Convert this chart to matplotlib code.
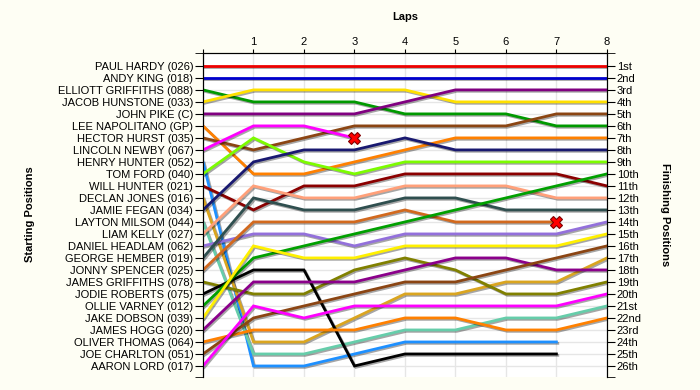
import matplotlib
matplotlib.use('Agg')
import matplotlib.pyplot as plt
import matplotlib.patheffects as pe

plt.rcParams['font.family'] = ['Liberation Sans', 'DejaVu Sans']

laps = [0, 1, 2, 3, 4, 5, 6, 7, 8]

drivers = ['PAUL HARDY (026)', 'ANDY KING (018)', 'ELLIOTT GRIFFITHS (088)', 'JACOB HUNSTONE (033)',
           'JOHN PIKE (C)', 'LEE NAPOLITANO (GP)', 'HECTOR HURST (035)', 'LINCOLN NEWBY (067)',
           'HENRY HUNTER (052)', 'TOM FORD (040)', 'WILL HUNTER (021)', 'DECLAN JONES (016)',
           'JAMIE FEGAN (034)', 'LAYTON MILSOM (044)', 'LIAM KELLY (027)', 'DANIEL HEADLAM (062)',
           'GEORGE HEMBER (019)', 'JONNY SPENCER (025)', 'JAMES GRIFFITHS (078)', 'JODIE ROBERTS (075)',
           'OLLIE VARNEY (012)', 'JAKE DOBSON (039)', 'JAMES HOGG (020)', 'OLIVER THOMAS (064)',
           'JOE CHARLTON (051)', 'AARON LORD (017)']

# position at end of each lap (lap 0 = grid), shorter list = did not run all laps
positions = [
    [1, 1, 1, 1, 1, 1, 1, 1, 1],
    [2, 2, 2, 2, 2, 2, 2, 2, 2],
    [3, 4, 4, 4, 5, 5, 5, 6, 6],
    [4, 3, 3, 3, 3, 4, 4, 4, 4],
    [5, 5, 5, 5, 4, 3, 3, 3, 3],
    [6, 10, 10, 9, 8, 7, 7, 7, 7],
    [7, 8, 7, 6, 6, 6, 6, 5, 5],
    [8, 6, 6, 7],
    [9, 26, 26, 25, 24, 24, 24, 24],
    [10, 7, 9, 10, 9, 9, 9, 9, 9],
    [11, 13, 11, 11, 10, 10, 10, 10, 11],
    [12, 24, 24, 22, 20, 20, 19, 19, 17],
    [13, 9, 8, 8, 7, 8, 8, 8, 8],
    [14, 25, 25, 24, 23, 23, 22, 22, 21],
    [15, 11, 12, 12, 11, 11, 11, 12, 12],
    [16, 15, 15, 16, 15, 15, 15, 15, 14],
    [17, 12, 13, 13, 12, 12, 13, 13, 13],
    [18, 14, 14, 14, 13, 14, 14, 14],
    [19, 20, 20, 18, 17, 18, 20, 20, 19],
    [20, 18, 18, 26, 25, 25, 25, 25],
    [21, 17, 16, 15, 14, 13, 12, 11, 10],
    [22, 16, 17, 17, 16, 16, 16, 16, 15],
    [23, 19, 19, 19, 18, 17, 17, 18, 18],
    [24, 23, 23, 23, 22, 22, 23, 23, 22],
    [25, 22, 21, 20, 19, 19, 18, 17, 16],
    [26, 21, 22, 21, 21, 21, 21, 21, 20],
]

retired = ['LINCOLN NEWBY (067)', 'JONNY SPENCER (025)']

finish_labels = ['1st', '2nd', '3rd', '4th', '5th', '6th', '7th', '8th', '9th', '10th', '11th', '12th',
                 '13th', '14th', '15th', '16th', '17th', '18th', '19th', '20th', '21st', '22nd', '23rd',
                 '24th', '25th', '26th']

colors = ['#EE0000', '#0000CC', '#009900', '#FFE000', '#800080', '#FF8000', '#8B4513', '#FF00FF',
          '#1E90FF', '#7CFC00', '#8B0000', '#DAA520', '#191970', '#66CDAA', '#FFA07A', '#9370DB',
          '#2F4F4F', '#D2691E', '#808000', '#000000', '#00A000', '#FFF000', '#8B008B', '#FF8000',
          '#8B4513', '#FF00FF']

fig = plt.figure(figsize=(7, 3.9), dpi=100, facecolor='#FEFEF4')
ax = fig.add_axes([0.29, 0.0333, 0.577, 0.831])
ax.set_facecolor('white')

shadow = [pe.SimpleLineShadow(offset=(1, -1), shadow_color='black', alpha=0.35), pe.Normal()]
for name, pos, c in zip(drivers, positions, colors):
    ax.plot(laps[:len(pos)], pos, color=c, lw=2, solid_joinstyle='miter', path_effects=shadow, zorder=3)
    if name in retired:
        ax.plot(len(pos) - 1, pos[-1], marker='X', color='red', mec='#800000', mew=0.8, ms=8, zorder=5)

n = len(drivers)
ax.set_xlim(0, 8)
ax.set_ylim(n + 0.92, -0.08)

ax.xaxis.tick_top()
ax.set_xticks(laps)
ax.set_xticklabels([''] + [str(l) for l in laps[1:]])
ax.tick_params(axis='x', length=3, pad=1, labelsize=8)

ax.set_yticks(range(1, n + 1))
ax.set_yticklabels(drivers)
ax.set_yticks([-0.08, n + 0.92], minor=True)
ax.tick_params(axis='y', which='both', length=6, pad=1, labelsize=8)

ax.grid(True, color='#E6E6E6', lw=1, zorder=0)
ax.spines['bottom'].set_visible(False)
ax.set_title('Laps', fontsize=8, fontweight='bold', pad=24)

ax2 = ax.twinx()
ax2.set_ylim(ax.get_ylim())
ax2.set_yticks(range(1, n + 1))
ax2.set_yticklabels(finish_labels)
ax2.set_yticks([-0.08, n + 0.92], minor=True)
ax2.tick_params(axis='y', which='both', length=6, pad=1, labelsize=8)
ax2.spines['bottom'].set_visible(False)

fig.text(0.043, 0.45, 'Starting Positions', rotation=90, fontsize=8, fontweight='bold', ha='center', va='center')
fig.text(0.95, 0.45, 'Finishing Positions', rotation=270, fontsize=8, fontweight='bold', ha='center', va='center')

fig.savefig('out.png', dpi=100, facecolor=fig.get_facecolor())
